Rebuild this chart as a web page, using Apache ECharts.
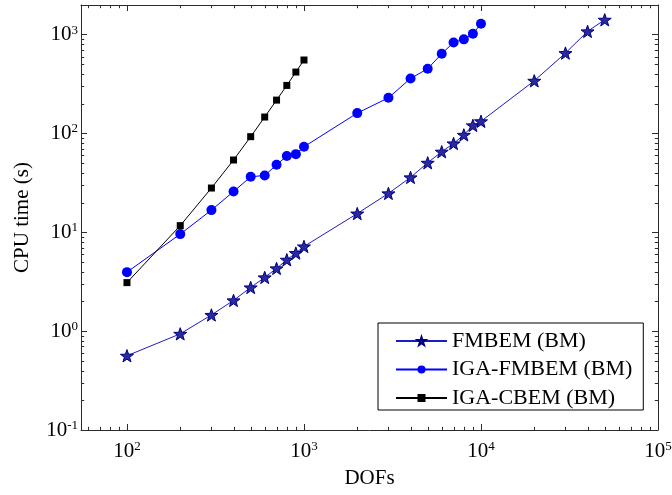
<!DOCTYPE html>
<html>
<head>
<meta charset="utf-8">
<script src="https://cdn.jsdelivr.net/npm/echarts@6/dist/echarts.min.js"></script>
<style>html,body{margin:0;padding:0;background:#fff}#c{width:672px;height:495px}</style>
</head>
<body>
<div id="c"></div>
<script>
// ---- data ----
const dofsSmall = [100, 200, 300, 400, 500, 600, 700, 800, 900, 1000];
const dofsFM = [100, 200, 300, 400, 500, 600, 700, 800, 900, 1000, 2000, 3000, 4000, 5000, 6000, 7000, 8000, 9000, 10000, 20000, 30000, 40000, 50000];
const timeFM = [0.564, 0.94, 1.46, 2.05, 2.77, 3.5, 4.32, 5.28, 6.17, 7.2, 15.5, 24.8, 36, 50.6, 65.5, 79.4, 97, 121, 133, 342, 652, 1081, 1418];
const dofsIGAFM = [100, 200, 300, 400, 500, 600, 700, 800, 900, 1000, 2000, 3000, 4000, 5000, 6000, 7000, 8000, 9000, 10000];
const timeIGAFM = [3.96, 9.6, 16.8, 25.9, 36.5, 37.7, 48.3, 59.2, 61.9, 73.5, 161, 230, 361, 453, 642, 836, 898, 1023, 1292];
const timeIGAC = [3.1, 11.7, 28.1, 54, 93, 147, 218, 307, 419, 555];
const seriesNames = ['FMBEM (BM)', 'IGA-FMBEM (BM)', 'IGA-CBEM (BM)'];
const xMin = 55, xMax = 100000, yMin = 0.1, yMax = 2000;
const xMinorTicks = [60, 70, 80, 90, 200, 300, 400, 500, 600, 700, 800, 900, 2000, 3000, 4000, 5000, 6000, 7000, 8000, 9000, 20000, 30000, 40000, 50000, 60000, 70000, 80000, 90000];
const yMinorTicks = [0.2, 0.3, 0.4, 0.5, 0.6, 0.7, 0.8, 0.9, 2, 3, 4, 5, 6, 7, 8, 9, 20, 30, 40, 50, 60, 70, 80, 90, 200, 300, 400, 500, 600, 700, 800, 900];

const FONT = '"Liberation Serif", "Times New Roman", serif';
const starPath = 'path://M0,-10 L2.35,-3.24 L9.51,-3.09 L3.8,1.24 L5.88,8.09 L0,4 L-5.88,8.09 L-3.8,1.24 L-9.51,-3.09 L-2.35,-3.24 Z';

function powLabel(v) {
  const e = Math.round(Math.log10(v));
  if (Math.abs(v - Math.pow(10, e)) / v > 1e-6) return '';
  return '{b|10}{s|' + e + '}';
}
const richLab = {
  b: {fontFamily: FONT, fontSize: 21, color: '#000', lineHeight: 22},
  s: {fontFamily: FONT, fontSize: 13, color: '#000', verticalAlign: 'top', lineHeight: 22, padding: [0, 0, 8, 0]}
};
const axisLineStyle = {color: '#2b2b2b', width: 1};

const chart = echarts.init(document.getElementById('c'));
const option = {
  animation: false,
  backgroundColor: '#fff',
  grid: {left: 81, right: 14, top: 5, bottom: 65, containLabel: false, outerBoundsMode: 'none'},
  xAxis: [{
    type: 'log', logBase: 10, min: xMin, max: xMax, position: 'bottom',
    name: 'DOFs', nameLocation: 'middle', nameGap: 38,
    nameTextStyle: {fontFamily: FONT, fontSize: 21, color: '#000'},
    axisLine: {show: true, onZero: false, lineStyle: axisLineStyle},
    axisTick: {show: true, inside: true, length: 6, lineStyle: axisLineStyle},
    axisLabel: {formatter: powLabel, rich: richLab, margin: 10, showMinLabel: true, showMaxLabel: true},
    splitLine: {show: false}
  }, {
    type: 'log', logBase: 10, min: xMin, max: xMax, position: 'top',
    axisLine: {show: true, onZero: false, lineStyle: axisLineStyle},
    axisTick: {show: true, inside: true, length: 6, lineStyle: axisLineStyle},
    axisLabel: {show: false}, splitLine: {show: false}
  }],
  yAxis: [{
    type: 'log', logBase: 10, min: yMin, max: yMax, position: 'left',
    name: 'CPU time (s)', nameLocation: 'middle', nameGap: 48,
    nameTextStyle: {fontFamily: FONT, fontSize: 21, color: '#000'},
    axisLine: {show: true, onZero: false, lineStyle: axisLineStyle},
    axisTick: {show: true, inside: true, length: 6, lineStyle: axisLineStyle},
    axisLabel: {formatter: powLabel, rich: richLab, margin: 3, showMinLabel: true},
    splitLine: {show: false}
  }, {
    type: 'log', logBase: 10, min: yMin, max: yMax, position: 'right',
    axisLine: {show: true, onZero: false, lineStyle: axisLineStyle},
    axisTick: {show: true, inside: true, length: 6, lineStyle: axisLineStyle},
    axisLabel: {show: false}, splitLine: {show: false}
  }],
  legend: {
    orient: 'vertical', left: 378, top: 323,
    padding: [7, 11, 1, 17], itemGap: 6.5,
    itemWidth: 51, itemHeight: 10,
    backgroundColor: '#fff', borderColor: '#000', borderWidth: 1, borderRadius: 0,
    textStyle: {fontFamily: FONT, fontSize: 22, color: '#000', lineHeight: 22},
    data: seriesNames
  },
  series: [{
    name: seriesNames[0], type: 'line',
    data: dofsFM.map((x, i) => [x, timeFM[i]]),
    symbol: starPath, symbolSize: 13, symbolKeepAspect: true,
    lineStyle: {color: '#1c1cc4', width: 1},
    itemStyle: {color: '#2a2aa0', borderColor: '#000080', borderWidth: 1},
    z: 3
  }, {
    name: seriesNames[1], type: 'line',
    data: dofsIGAFM.map((x, i) => [x, timeIGAFM[i]]),
    symbol: 'circle', symbolSize: 10,
    lineStyle: {color: '#0000ff', width: 1},
    itemStyle: {color: '#0000ff', borderWidth: 0},
    z: 3
  }, {
    name: seriesNames[2], type: 'line',
    data: dofsSmall.map((x, i) => [x, timeIGAC[i]]),
    symbol: 'rect', symbolSize: 7,
    lineStyle: {color: '#000', width: 1},
    itemStyle: {color: '#000', borderWidth: 0},
    z: 4
  }]
};
chart.setOption(option);

// minor ticks (log spaced), placed through the library's own axis scales
function addMinorTicks() {
  const g = [];
  const L = 3.2;
  const yB = chart.convertToPixel({yAxisIndex: 0}, yMin);
  const yT = chart.convertToPixel({yAxisIndex: 0}, yMax);
  const xL = chart.convertToPixel({xAxisIndex: 0}, xMin);
  const xR = chart.convertToPixel({xAxisIndex: 0}, xMax);
  const st = {stroke: '#2b2b2b', lineWidth: 1};
  xMinorTicks.forEach(v => {
    const x = Math.round(chart.convertToPixel({xAxisIndex: 0}, v)) + 0.5;
    g.push({type: 'line', shape: {x1: x, y1: yB, x2: x, y2: yB - L}, style: st, silent: true});
    g.push({type: 'line', shape: {x1: x, y1: yT, x2: x, y2: yT + L}, style: st, silent: true});
  });
  yMinorTicks.forEach(v => {
    const y = Math.round(chart.convertToPixel({yAxisIndex: 0}, v)) + 0.5;
    g.push({type: 'line', shape: {x1: xL, y1: y, x2: xL + L, y2: y}, style: st, silent: true});
    g.push({type: 'line', shape: {x1: xR, y1: y, x2: xR - L, y2: y}, style: st, silent: true});
  });
  chart.setOption({graphic: g});
}
addMinorTicks();
</script>
</body>
</html>
